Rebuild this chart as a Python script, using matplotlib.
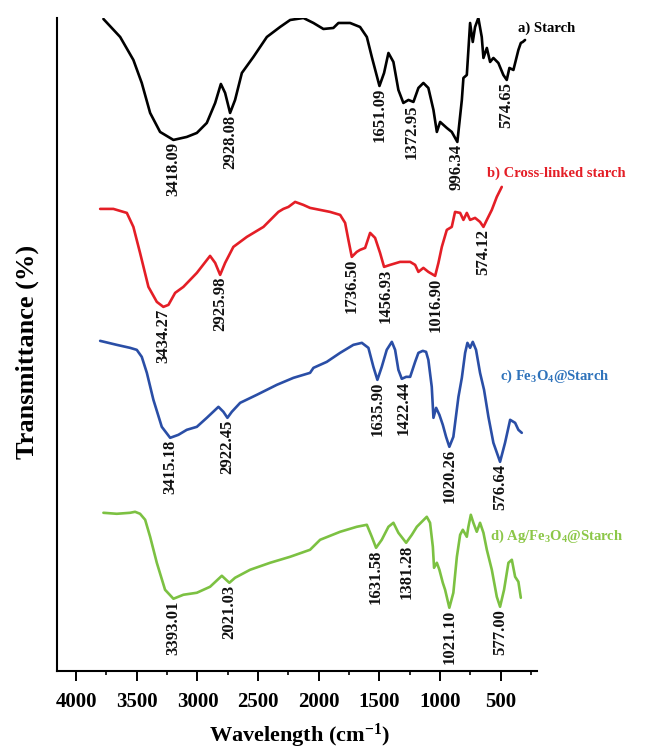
import numpy as np
import matplotlib
matplotlib.use("Agg")
import matplotlib.pyplot as plt
from matplotlib.ticker import MultipleLocator

plt.rcParams['font.family'] = ['Liberation Serif', 'DejaVu Serif']
plt.rcParams['font.weight'] = 'bold'
plt.rcParams['mathtext.fontset'] = 'custom'
plt.rcParams['mathtext.rm'] = 'Liberation Serif:bold'
plt.rcParams['mathtext.it'] = 'Liberation Serif:bold'
plt.rcParams['mathtext.bf'] = 'Liberation Serif:bold'

# a) Starch
wn_a = [3775, 3637, 3528, 3459, 3390, 3308, 3198, 3088, 3005, 2923, 2854, 2807, 2772, 2731,
        2690, 2634, 2539, 2428, 2319, 2236, 2127, 2044, 1962, 1880, 1838, 1742, 1660, 1604,
        1563, 1500, 1462, 1426, 1385, 1344, 1303, 1261, 1220, 1179, 1138, 1097, 1055, 1027,
        1000, 945, 904, 858, 821, 808, 780, 753, 731, 712, 685, 657, 643, 615, 588, 561,
        520, 479, 451, 429, 396, 355, 335, 319, 300]
t_a = [652, 634, 611, 588, 558, 539, 531, 534, 538, 548, 568, 587, 578, 558,
       571, 598, 614, 634, 644, 651, 653, 648, 642, 643, 648, 648, 644, 634,
       614, 585, 598, 618, 609, 581, 568, 571, 569, 583, 588, 583, 561, 539,
       549, 543, 539, 529, 571, 593, 596, 648, 629, 644, 653, 634, 613, 623, 609, 613,
       608, 596, 591, 603, 601, 621, 628, 629, 631]

# b) Cross-linked starch
wn_b = [3802, 3693, 3582, 3528, 3473, 3404, 3335, 3281, 3239, 3184, 3116, 3005, 2896, 2854,
        2813, 2772, 2704, 2593, 2456, 2333, 2292, 2250, 2195, 2127, 2072, 1989, 1907, 1824,
        1783, 1756, 1728, 1687, 1660, 1618, 1577, 1536, 1495, 1462, 1412, 1330, 1247, 1206,
        1179, 1138, 1097, 1041, 1014, 986, 945, 904, 877, 835, 808, 780, 753, 712, 671,
        643, 615, 574, 533, 492]
t_b = [462, 462, 458, 444, 418, 384, 369, 364, 366, 378, 384, 398, 415, 408,
       396, 408, 424, 434, 444, 459, 462, 464, 469, 466, 463, 461, 459, 456,
       448, 431, 414, 419, 421, 423, 438, 433, 418, 404, 406, 409, 409, 406,
       399, 403, 399, 395, 408, 424, 441, 444, 459, 458, 451, 458, 451, 453, 449,
       444, 451, 461, 474, 484]

# c) Fe3O4@Starch
wn_c = [3802, 3665, 3555, 3500, 3459, 3417, 3363, 3294, 3225, 3157, 3088, 3005, 2923, 2827,
        2786, 2753, 2717, 2648, 2511, 2346, 2209, 2072, 2044, 1934, 1824, 1715, 1645, 1591,
        1550, 1517, 1481, 1440, 1398, 1371, 1344, 1316, 1280, 1247, 1206, 1179, 1143, 1116,
        1097, 1069, 1055, 1033, 1006, 978, 951, 924, 891, 849, 821, 794, 775, 753, 731,
        704, 671, 638, 602, 561, 506, 465, 423, 382, 355, 327]
t_c = [330, 326, 323, 321, 314, 298, 271, 244, 233, 236, 241, 244, 253, 264,
       259, 253, 259, 268, 276, 286, 293, 298, 303, 309, 318, 326, 328, 323,
       304, 291, 304, 321, 329, 321, 301, 292, 294, 294, 309, 318, 320, 319,
       311, 284, 253, 263, 256, 246, 234, 224, 234, 274, 293, 318, 328, 323, 329,
       321, 298, 281, 254, 228, 209, 228, 251, 248, 241, 238]

# d) Ag/Fe3O4@Starch
wn_d = [3775, 3665, 3555, 3514, 3473, 3431, 3390, 3335, 3267, 3198, 3116, 3005, 2896, 2799,
        2764, 2737, 2690, 2566, 2401, 2236, 2072, 1989, 1824, 1687, 1604, 1563, 1528, 1481,
        1426, 1385, 1344, 1280, 1233, 1192, 1151, 1110, 1083, 1060, 1050, 1027, 1006, 978,
        959, 924, 891, 862, 835, 813, 780, 767, 747, 726, 698, 671, 643, 615, 574, 533,
        506, 473, 437, 409, 382, 355, 335]
t_d = [158, 157, 158, 159, 157, 151, 134, 108, 81, 72, 76, 78, 84, 95,
       91, 88, 93, 101, 108, 114, 121, 131, 139, 144, 146, 134, 123, 131,
       144, 148, 138, 128, 136, 144, 149, 154, 148, 124, 103, 108, 101, 88,
       81, 63, 78, 114, 136, 141, 134, 144, 156, 148, 139, 148, 138, 121, 101, 74,
       64, 81, 108, 111, 94, 89, 73]

# peak labels: text, position of the label, top of the label
peaks_a = ['3418.09', '2928.08', '1651.09', '1372.95', '996.34', '574.65']
peak_x_a = [3198, 2731, 1500, 1233, 862, 451]
peak_t_a = [531, 558, 585, 568, 529, 591]

peaks_b = ['3434.27', '2925.98', '1736.50', '1456.93', '1016.90', '574.12']
peak_x_b = [3281, 2813, 1728, 1453, 1041, 643]
peak_t_b = [364, 396, 414, 404, 395, 444]

peaks_c = ['3415.18', '2922.45', '1635.90', '1422.44', '1020.26', '576.64']
peak_x_c = [3225, 2753, 1517, 1303, 924, 506]
peak_t_c = [233, 253, 291, 292, 224, 209]

peaks_d = ['3393.01', '2021.03', '1631.58', '1381.28', '1021.10', '577.00']
peak_x_d = [3198, 2737, 1528, 1280, 924, 506]
peak_t_d = [72, 88, 123, 128, 63, 64]

names = ['a) Starch', 'b) Cross-linked starch', 'c) Fe$_3$O$_4$@Starch',
         'd) Ag/Fe$_3$O$_4$@Starch']
name_x = [357, 613, 506, 588]
name_t = [643, 498, 295, 134]

line_colors = ['#000000', '#e41e26', '#2a4ea6', '#7cc142']
name_colors = ['#000000', '#e41e26', '#2f73bb', '#8cc748']

fig = plt.figure(figsize=(6.48, 7.49), dpi=100)
ax = fig.add_axes([0.0875, 0.1045, 0.7415, 0.8715])

series = [(wn_a, t_a), (wn_b, t_b), (wn_c, t_c), (wn_d, t_d)]
for (wn, t), c in zip(series, line_colors):
    ax.plot(wn, t, color=c, lw=1.9, solid_joinstyle='round', solid_capstyle='round')

all_peaks = [(peaks_a, peak_x_a, peak_t_a), (peaks_b, peak_x_b, peak_t_b),
             (peaks_c, peak_x_c, peak_t_c), (peaks_d, peak_x_d, peak_t_d)]
for labels, xs, ts in all_peaks:
    for lab, x, t in zip(labels, xs, ts):
        ax.text(x, t - 2, lab, rotation=90, ha='center', va='top',
                fontsize=12, fontweight='bold', color='#111111')

for nm, x, t, c in zip(names, name_x, name_t, name_colors):
    ax.text(x, t, nm, ha='left', va='center', fontsize=10.5,
            fontweight='bold', color=c)

ax.set_xlim(4160, 200)
ax.set_ylim(0, 653)
ax.xaxis.set_minor_locator(MultipleLocator(250))
ax.set_xticks([4000, 3500, 3000, 2500, 2000, 1500, 1000, 500])
ax.tick_params(axis='x', which='major', direction='out', length=7, width=1.4,
               labelsize=15, pad=8)
ax.tick_params(axis='x', which='minor', direction='out', length=3, width=1.2)
ax.set_yticks([])
for lbl in ax.get_xticklabels():
    lbl.set_fontweight('bold')

ax.spines['top'].set_visible(False)
ax.spines['right'].set_visible(False)
ax.spines['left'].set_linewidth(1.5)
ax.spines['bottom'].set_linewidth(1.5)

ax.set_xlabel('Wavelength (cm$^{-1}$)', fontsize=16, fontweight='bold')
ax.xaxis.label.set_va('center')
ax.xaxis.set_label_coords(0.505, -0.1)
ax.set_ylabel('Transmittance (%)', fontsize=19, fontweight='bold')
ax.yaxis.label.set_va('center')
ax.yaxis.set_label_coords(-0.062, 0.489)

fig.savefig('out.png', dpi=100)
